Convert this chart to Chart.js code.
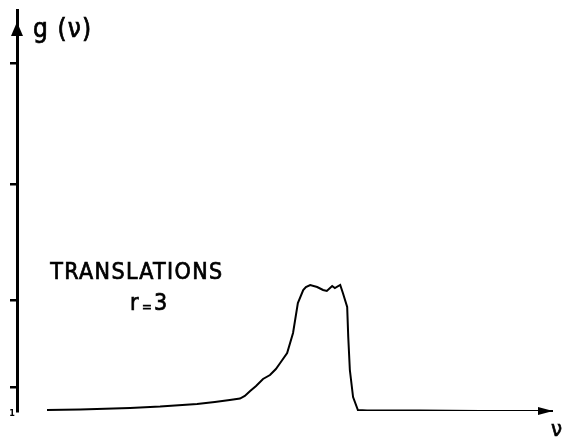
<!DOCTYPE html>
<html>
<head>
<meta charset="utf-8">
<script src="https://cdn.jsdelivr.net/npm/chart.js@4/dist/chart.umd.min.js"></script>
<style>
  html, body { margin: 0; padding: 0; background: #fff; }
  #wrap { width: 567px; height: 438px; }
</style>
</head>
<body>
<div id="wrap"><canvas id="c"></canvas></div>
<script>
// frequency (arbitrary units, 0..100 along the axis)
var nu = [5.6, 11.8, 21.1, 26.7, 33.6, 36.9, 39.7, 41.6, 42.5, 43.5, 44.6, 45.9, 47.2,
          48.3, 49.1, 50.4, 51.5, 52.4, 53.4, 53.9, 54.7, 56.0, 57.1, 57.8, 58.8, 59.3,
          60.3, 60.8, 61.6, 61.8, 62.1, 62.7, 63.6, 65.3, 75.2, 86.4, 97.6];
// g(nu), arbitrary units
var g = [0.25, 0.4, 0.75, 1.1, 1.75, 2.25, 2.75, 3.1, 3.75, 5.0, 6.25, 8.0, 9.0,
         10.5, 12.0, 14.5, 19.5, 27.0, 30.25, 31.0, 31.5, 31.0, 30.25, 30.0, 31.25, 30.75,
         31.5, 29.5, 26.0, 18.5, 10.25, 3.5, 0.25, 0.1, 0.1, 0, 0];
// tick marks on the g axis
var yTicks = [6, 27.75, 56.75, 87];

var points = nu.map(function (x, i) { return {x: x, y: g[i]}; });

var FONT = '"DejaVu Sans Condensed", "DejaVu Sans", sans-serif';

// text with a light outline so it looks like the pen lettering
function inked(ctx, txt, x, y, width) {
    ctx.letterSpacing = '0px';
    if (width) {
        var w = ctx.measureText(txt).width;
        ctx.letterSpacing = ((width - w) / (txt.length - 1)) + 'px';
    }
    ctx.lineWidth = 0.7;
    ctx.fillText(txt, x, y);
    ctx.strokeText(txt, x, y);
    ctx.letterSpacing = '0px';
}

var decor = {
    id: 'decor',
    afterDatasetsDraw: function (chart) {
        var ctx = chart.ctx, xs = chart.scales.x, ys = chart.scales.y;
        var x0 = ys.right, top = chart.chartArea.top;
        var yb = ys.getPixelForValue(0);
        ctx.save();
        ctx.fillStyle = '#000';
        ctx.strokeStyle = '#000';

        // arrow on g axis
        ctx.beginPath();
        ctx.moveTo(x0, top + 12);
        ctx.lineTo(x0 - 6, top + 26);
        ctx.lineTo(x0 + 6, top + 26);
        ctx.closePath();
        ctx.fill();

        // rest of nu axis and its arrow
        var last = points[points.length - 1];
        ctx.lineWidth = 2;
        ctx.beginPath();
        ctx.moveTo(xs.getPixelForValue(last.x), ys.getPixelForValue(last.y));
        ctx.lineTo(xs.right, yb);
        ctx.stroke();
        ctx.beginPath();
        ctx.moveTo(xs.right, yb);
        ctx.lineTo(xs.right - 15, yb - 4);
        ctx.lineTo(xs.right - 15, yb + 4);
        ctx.closePath();
        ctx.fill();

        ctx.textBaseline = 'alphabetic';
        ctx.textAlign = 'left';

        ctx.font = '26px ' + FONT;
        inked(ctx, 'g (ν)', xs.getPixelForValue(3.0), ys.getPixelForValue(93.5), 58);

        ctx.font = '23px ' + FONT;
        inked(ctx, 'TRANSLATIONS', xs.getPixelForValue(6.2), ys.getPixelForValue(33), 172);

        var rx = xs.getPixelForValue(21.1), ry = ys.getPixelForValue(25.3);
        ctx.font = '23px ' + FONT;
        inked(ctx, 'r', rx, ry);
        ctx.font = '13px ' + FONT;
        inked(ctx, '=', rx + 12, ry + 1);
        ctx.font = '23px ' + FONT;
        inked(ctx, '3', rx + 24, ry);

        ctx.font = '22px ' + FONT;
        inked(ctx, 'ν', xs.right - 2, yb + 25);

        ctx.font = 'bold 9px ' + FONT;
        ctx.textAlign = 'right';
        ctx.fillText('1', x0 - 2, yb + 5);
        ctx.restore();
    }
};

new Chart(document.getElementById('c'), {
    type: 'scatter',
    data: {
        datasets: [{
            data: points,
            showLine: true,
            borderColor: '#000',
            backgroundColor: '#000',
            borderWidth: 2,
            pointRadius: 0,
            tension: 0,
        }]
    },
    options: {
        responsive: true,
        maintainAspectRatio: false,
        animation: false,
        layout: { padding: { top: 10, bottom: 27, right: 14, left: 0 } },
        plugins: {
            legend: { display: false },
            tooltip: { enabled: false },
        },
        scales: {
            x: {
                type: 'linear',
                min: 0,
                max: 100,
                display: false,
            },
            y: {
                type: 'linear',
                min: 0,
                max: 100.25,
                afterBuildTicks: function (scale) {
                    scale.ticks = yTicks.map(function (v) { return {value: v}; });
                },
                afterFit: function (scale) { scale.width = 17; },
                ticks: { display: false },
                grid: {
                    drawOnChartArea: false,
                    drawTicks: true,
                    tickLength: 7,
                    color: '#000',
                    lineWidth: 2.5,
                },
                border: { display: true, color: '#000', width: 3 },
            }
        }
    },
    plugins: [decor]
});
</script>
</body>
</html>
